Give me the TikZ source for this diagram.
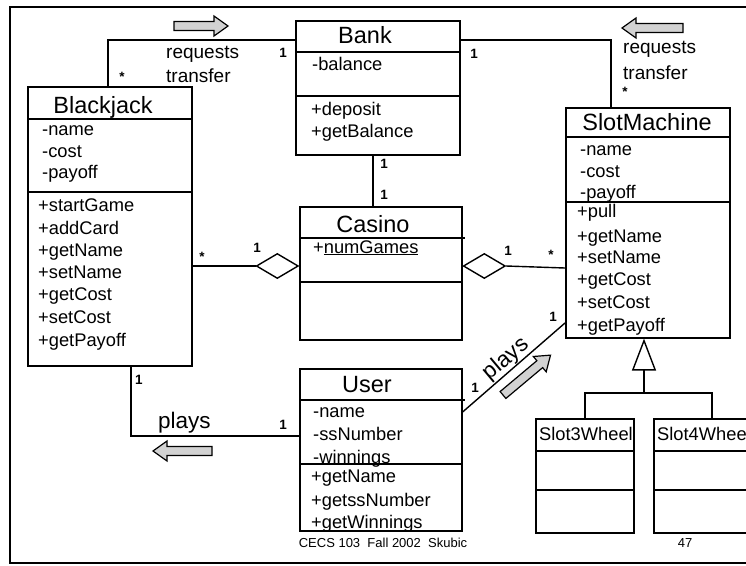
\documentclass[tikz,border=0pt]{standalone}
\usepackage{fontspec}
\setmainfont{Liberation Sans}
\usetikzlibrary{shapes.geometric,arrows.meta,calc}
\definecolor{agray}{RGB}{210,210,210}
\newcommand{\grayarrow}[4]{\draw[garrow, shift={(#1,#2)}, rotate=#3] (0,-4.5) -- ({#4-14},-4.5) -- ({#4-14},-10) -- (#4,0) -- ({#4-14},10) -- ({#4-14},4.5) -- (0,4.5) -- cycle;}
\begin{document}
\begin{tikzpicture}[x=1pt,y=-1pt,
 box/.style={draw, line width=1.6pt, inner sep=0, anchor=north west},
 sep/.style={line width=1.6pt},
 hdr/.style={font=\fontsize{23.5}{26}\selectfont, inner sep=0, anchor=base},
 item/.style={font=\fontsize{18.3}{20}\selectfont, inner sep=0, anchor=base west},
 role/.style={font=\fontsize{19}{22}\selectfont, inner sep=0, anchor=base west},
 mult/.style={font=\fontsize{13.5}{14}\selectfont\bfseries, inner sep=0},
 conn/.style={line width=1.4pt},
 agg/.style={diamond, draw, line width=1.4pt, fill=white, inner sep=0, minimum width=42pt, minimum height=25pt},
 garrow/.style={draw, line width=1.2pt, fill=agray, line join=miter},
]
\useasboundingbox (0,0) rectangle (746,565);
\clip (0,0) rectangle (746,565);
\fill[white] (0,0) rectangle (746,565);
% frame
\draw[line width=2pt] (770,7) -- (10,7) -- (10,563) -- (770,563);

% class boxes
\node[box, minimum width=164pt, minimum height=279pt] (bj) at (27,86) {};
\node[box, minimum width=164pt, minimum height=134pt] (bank) at (295,20) {};
\node[box, minimum width=162pt, minimum height=133pt] (casino) at (299,206) {};
\node[box, minimum width=164pt, minimum height=230pt] (slot) at (565,107) {};
\node[box, minimum width=162pt, minimum height=162pt] (user) at (299,368) {};
\node[box, minimum width=98pt, minimum height=114pt] (s3) at (535,418) {};
\node[box, minimum width=116pt, minimum height=114pt] (s4) at (653,418) {};

% compartments
\draw[sep] (bj.west |- 0,119) -- (bj.east |- 0,119) (bj.west |- 0,192) -- (bj.east |- 0,192);
\draw[sep] (bank.west |- 0,52) -- (bank.east |- 0,52) (bank.west |- 0,96) -- (bank.east |- 0,96);
\draw[sep] (casino.west |- 0,238) -- ($(casino.east |- 0,238)+(2,0)$) (casino.west |- 0,282) -- (casino.east |- 0,282);
\draw[sep] (slot.west |- 0,137) -- (slot.east |- 0,137) (slot.west |- 0,202) -- (slot.east |- 0,202);
\draw[sep] (user.west |- 0,400) -- ($(user.east |- 0,400)+(2,0)$) (user.west |- 0,464) -- (user.east |- 0,464);
\draw[sep] (s3.west |- 0,451) -- (s3.east |- 0,451) (s3.west |- 0,490) -- (s3.east |- 0,490);
\draw[sep] (s4.west |- 0,451) -- (s4.east |- 0,451) (s4.west |- 0,490) -- (s4.east |- 0,490);

% Blackjack text
\node[hdr] (bjT) at (103,113) {Blackjack};
\node[item] (bja1) at (42,135) {-name};
\node[item] (bja2) at (42,157) {-cost};
\node[item] (bja3) at (42,178) {-payoff};
\node[item] (bjm1) at (38,211) {+startGame};
\node[item] (bjm2) at (38,234) {+addCard};
\node[item] (bjm3) at (38,256) {+getName};
\node[item] (bjm4) at (38,278) {+setName};
\node[item] (bjm5) at (38,300) {+getCost};
\node[item] (bjm6) at (38,323) {+setCost};
\node[item] (bjm7) at (38,346) {+getPayoff};

% Bank text
\node[hdr] (bankT) at (365,43) {Bank};
\node[item] (banka1) at (312,70) {-balance};
\node[item] (bankm1) at (311,115) {+deposit};
\node[item] (bankm2) at (311,137) {+getBalance};

% Casino text
\node[hdr] (casT) at (373,232) {Casino};
\node[item] (casa1) at (313,253) {+\underline{numGames}};

% SlotMachine text
\node[hdr] (slotT) at (647,130) {SlotMachine};
\node[item] (sla1) at (580,155) {-name};
\node[item] (sla2) at (580,177) {-cost};
\node[item] (sla3) at (580,198) {-payoff};
\node[item] (slm1) at (577,217) {+pull};
\node[item] (slm2) at (577,242) {+getName};
\node[item] (slm3) at (577,263) {+setName};
\node[item] (slm4) at (577,285) {+getCost};
\node[item] (slm5) at (577,308) {+setCost};
\node[item] (slm6) at (577,331) {+getPayoff};

% User text
\node[hdr] (userT) at (367,392) {User};
\node[item] (usa1) at (313,417) {-name};
\node[item] (usa2) at (313,440) {-ssNumber};
\node[item] (usa3) at (313,463) {-winnings};
\node[item] (usm1) at (311,482) {+getName};
\node[item] (usm2) at (311,506) {+getssNumber};
\node[item] (usm3) at (311,528) {+getWinnings};

% subclasses
\node[item] (s3T) at (539,440) {Slot3Wheel};
\node[item] (s4T) at (657,440) {Slot4Wheel};

% connectors
\coordinate (bjTop) at ($(bj.north west)+(81,0)$);
\coordinate (bankL) at ($(bank.north west)+(0,20)$);
\draw[conn] (bjTop) |- (bankL);
\coordinate (bankR) at ($(bank.north east)+(0,20)$);
\coordinate (slotTop) at ($(slot.north west)+(46,0)$);
\draw[conn] (bankR) -| (slotTop);
\coordinate (bankB) at ($(bank.south west)+(78,0)$);
\draw[conn] (bankB) -- (bankB |- casino.north);

\node[agg, anchor=east] (dl) at (casino.west |- 0,266) {};
\draw[conn] (dl.west) -- (bj.east |- dl.west);
\node[agg, anchor=west] (dr) at (casino.east |- 0,266) {};
\coordinate (slotL) at (slot.west |- 0,268);
\draw[conn] (dr.east) -- (slotL);

\coordinate (userR) at (user.east |- 0,412);
\coordinate (slotL2) at (slot.west |- 0,323);
\draw[conn] (userR) -- (slotL2);

\coordinate (bjB) at (bj.south -| 131,0);
\coordinate (userL) at (user.west |- 0,436);
\draw[conn] (bjB) |- (userL);

\coordinate (gj) at (644,393);
\draw[conn] (s3.north) |- (gj) -| (s4.north);
\draw[conn, -{Triangle[open, length=32pt, width=24pt, line width=1.4pt]}] (gj) -- (gj |- slot.south);

% gray direction arrows
\grayarrow{174}{26}{0}{54}
\grayarrow{683}{28}{180}{61}
\grayarrow{212}{451}{180}{59}
\grayarrow{503}{395}{40}{62}

% role labels
\node[role] (rq1) at (166,58) {requests};
\node[role] (tr1) at (166,82) {transfer};
\node[role] (rq2) at (623,53) {requests};
\node[role] (tr2) at (623,79) {transfer};
\node[font=\fontsize{22.5}{26}\selectfont, inner sep=0, anchor=base west] (pl1) at (158,428) {plays};
\node[font=\fontsize{22.5}{26}\selectfont, inner sep=0, rotate=40] (pl2) at (506,359) {plays};

% multiplicities
\node[mult] (m1) at (283,53) {1};
\node[mult] (m2) at (122,77) {*};
\node[mult] (m3) at (474,54) {1};
\node[mult] (m4) at (625,92) {*};
\node[mult] (m5) at (384,164) {1};
\node[mult] (m6) at (384,195) {1};
\node[mult] (m7) at (202,257) {*};
\node[mult] (m8) at (257,248) {1};
\node[mult] (m9) at (508,251) {1};
\node[mult] (m10) at (551,255) {*};
\node[mult] (m11) at (553,317) {1};
\node[mult] (m12) at (475,388) {1};
\node[mult] (m13) at (139,380) {1};
\node[mult] (m14) at (283,425) {1};

% footer
\node[font=\fontsize{13}{15}\selectfont, inner sep=0, anchor=base] (foot) at (383,547) {CECS 103\ \ Fall 2002\ \ Skubic};
\node[font=\fontsize{13}{15}\selectfont, inner sep=0, anchor=base] (page) at (685,547) {47};
\end{tikzpicture}
\end{document}
